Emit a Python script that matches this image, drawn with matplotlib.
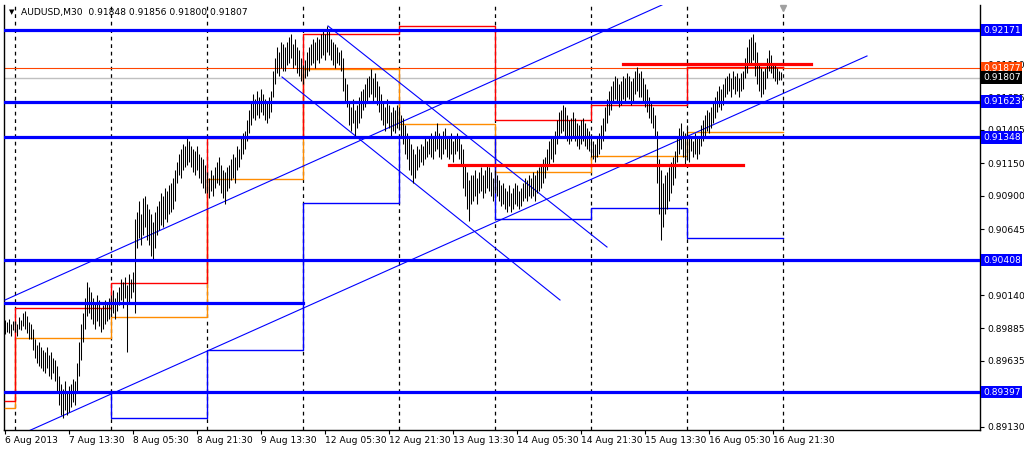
import numpy as np
import matplotlib.pyplot as plt
import matplotlib.transforms as mtransforms

# M30 bars, highs / lows in pips above 0.8900
bar_highs = [
    95, 93, 96, 92, 94, 94, 92, 97, 95, 100, 102, 98, 93,
    92, 88, 80, 76, 78, 74, 72, 70, 74, 68, 70, 66, 64,
    60, 52, 46, 42, 48, 40, 44, 46, 50, 48,
    62, 78, 92, 100, 112, 124,
    120, 116, 112, 108, 114, 110, 104, 106, 110, 108, 112,
    114, 118, 112, 116, 120, 126, 124, 128, 122, 130, 126, 132,
    172, 178, 186, 176, 188, 190, 184, 180, 176, 170, 178,
    182, 186, 192, 190, 196, 194, 198, 200, 204, 210,
    216, 222, 226, 230, 228, 234, 232, 228, 226, 224, 228, 222, 220, 218, 214,
    208, 204, 210, 206, 212, 216, 220, 214, 210, 208, 212, 214,
    218, 222, 220, 228, 226, 234, 238, 240,
    248, 256, 262, 268, 264, 270, 266, 272, 268, 264, 262, 266, 270,
    286, 296, 304, 300, 308, 306,
    304, 308, 312, 314, 306, 310, 304, 302,
    296, 290, 294, 300, 304,
    306, 310, 308, 312, 310, 314, 316, 314, 320,
    316, 310, 308, 306, 304, 300, 302,
    296, 280, 276,
    262, 258, 264, 256, 260, 266, 270,
    272, 276, 280, 282, 287, 280, 284, 278, 274,
    268, 262, 258, 264, 260, 254, 258, 256, 260,
    258, 252, 250, 244, 238, 236, 230, 226, 222, 228,
    226, 230, 228, 234, 232, 236, 238, 234, 240, 246, 238, 236, 240, 242, 236, 234, 238, 232,
    236, 238, 234, 230, 226,
    214, 208, 202, 206,
    206, 210, 204, 208, 212, 206, 210, 214, 212, 208, 204, 210,
    206, 202, 198, 200, 196, 194, 198, 192, 196, 200, 198, 194, 196, 200, 204, 202, 206,
    204, 208, 206, 210, 212, 214, 218,
    220, 226, 232, 236, 234, 240, 248, 254,
    256, 260, 258, 252, 248, 250, 254, 250, 246, 244, 248, 250, 246, 242,
    240, 236, 232, 230, 234, 238,
    244, 250, 258, 264, 270, 274,
    278, 282, 280, 276, 278, 282, 280, 284, 282, 278, 280, 286, 289, 284, 286, 280, 276,
    272, 266, 262, 258, 252,
    240, 218, 210, 200, 206,
    208, 212, 216, 220, 224,
    236, 242, 246, 240, 238, 244, 236,
    236, 232, 238, 234, 236,
    244, 248, 252, 256, 254, 258, 262,
    266, 270, 274, 272, 276,
    280, 282, 284, 280, 286, 282, 284, 280, 284, 286,
    296, 304, 310, 312, 314,
    308, 300, 292, 288, 286,
    288, 296, 302, 298, 292, 290, 288, 286, 285,
]
bar_lows = [
    84, 86, 85, 83, 87, 86, 83, 88, 87, 90, 88, 85, 80,
    80, 72, 66, 62, 60, 58, 56, 54, 58, 52, 50, 54, 48,
    40, 30, 22, 20, 26, 22, 24, 28, 32, 30,
    40, 52, 64, 78, 88, 98,
    100, 96, 92, 88, 94, 90, 86, 88, 92, 94, 96,
    98, 100, 96, 102, 106, 110, 104, 112, 70, 108, 112, 116,
    100, 150, 158, 152, 160, 166, 156, 152, 144, 142, 150,
    160, 164, 168, 166, 172, 170, 176, 178, 180, 186,
    200, 206, 204, 210, 212, 214, 216, 212, 208, 206, 210, 204, 200, 196, 192,
    192, 188, 194, 190, 196, 200, 198, 192, 188, 184, 194, 196,
    202, 204, 200, 210, 212, 218, 222, 226,
    232, 238, 244, 250, 248, 252, 250, 254, 252, 248, 246, 250, 254,
    266, 276, 284, 282, 288, 286,
    286, 290, 292, 296, 288, 290, 284, 282,
    278, 276, 280, 282, 286,
    290, 292, 288, 294, 292, 296, 298, 294, 300,
    298, 294, 290, 288, 292, 290, 286,
    270, 262, 258,
    244, 240, 246, 234, 242, 246, 250,
    256, 258, 262, 266, 268, 262, 266, 260, 254,
    248, 244, 240, 246, 242, 236, 240, 238, 242,
    242, 236, 230, 222, 218, 210, 206, 200, 204, 210,
    212, 216, 214, 218, 220, 222, 220, 218, 224, 226, 220, 218, 222, 226, 220, 218, 222, 216,
    222, 224, 218, 214, 196,
    190, 180, 171, 184,
    186, 190, 184, 192, 194, 188, 192, 196, 194, 190, 186, 192,
    190, 186, 182, 184, 180, 178, 182, 178, 180, 184, 182, 180, 182, 186, 188, 186, 190,
    188, 190, 186, 192, 194, 196, 200,
    204, 210, 214, 218, 216, 222, 230, 236,
    238, 240, 236, 232, 230, 232, 236, 232, 228, 226, 230, 232, 228, 226,
    224, 220, 218, 216, 220, 222,
    226, 232, 240, 246, 252, 256,
    262, 264, 262, 258, 260, 264, 262, 266, 264, 260, 262, 268, 270, 266, 266, 262, 258,
    254, 250, 246, 242, 236,
    200, 176, 156, 166, 176,
    180, 186, 192, 198, 204,
    216, 222, 226, 220, 214, 220, 216,
    224, 220, 222, 218, 222,
    228, 232, 236, 240, 238, 242, 246,
    250, 254, 258, 256, 260,
    266, 268, 270, 266, 272, 268, 270, 266, 270, 272,
    280, 284, 290, 292, 294,
    282, 276, 270, 266, 268,
    272, 280, 286, 284, 280, 278, 276, 279, 279,
]

# daily indicator levels (bar index where each day starts)
day_starts = [0, 5, 53, 101, 149, 197, 245, 293, 341, 389]
red_levels = [0.89328, 0.90041, 0.90232, 0.91343, 0.92140, 0.92202, 0.91481, 0.91596, 0.91887]
orange_levels = [0.89275, 0.89811, 0.89972, 0.91029, 0.91872, 0.91451, 0.91083, 0.91205, 0.91389]
blue_levels = [0.89397, 0.89400, 0.89198, 0.89719, 0.90845, 0.91351, 0.90723, 0.90807, 0.90577]

# horizontal support / resistance
blue_hlines = [0.92171, 0.91623, 0.91348, 0.90408, 0.89397]
short_blue = (0, 149, 0.90079)
red_segments = [(222, 369, 0.91137), (309, 403, 0.91910)]
ask_line = 0.91877
bid_line = 0.91807

# trend lines: (bar0, price0, bar1, price1)
trend_lines = [
    (0, 0.90102, 328.5, 0.92363),
    (12, 0.89100, 431, 0.91972),
    (161.5, 0.92202, 301, 0.90508),
    (138.5, 0.91811, 277.5, 0.90102),
]

x_tick_bars = [0, 32, 64, 96, 128, 160, 192, 224, 256, 288, 320, 352, 384]
x_tick_labels = ["6 Aug 2013", "7 Aug 13:30", "8 Aug 05:30", "8 Aug 21:30",
                 "9 Aug 13:30", "12 Aug 05:30", "12 Aug 21:30", "13 Aug 13:30",
                 "14 Aug 05:30", "14 Aug 21:30", "15 Aug 13:30", "16 Aug 05:30",
                 "16 Aug 21:30"]
y_ticks = [0.91910, 0.91655, 0.91405, 0.91150, 0.90900, 0.90645,
           0.90140, 0.89885, 0.89635, 0.89130]

fig = plt.figure(figsize=(10.24, 4.5), dpi=100)
ax = fig.add_axes([4 / 1024, 20 / 450, 976 / 1024, 425 / 450])
ax.set_xlim(-0.5, 487.5)
ax.set_ylim(0.891059, 0.923626)

# bars
hi = 0.89 + np.array(bar_highs) / 1e4
lo = 0.89 + np.array(bar_lows) / 1e4
xs = np.arange(len(hi))
ax.vlines(xs, lo, hi, color="black", lw=0.75, zorder=4)

# day separators
for d in day_starts[1:]:
    ax.axvline(d, color="black", lw=0.9, ls=(0, (3, 3)), zorder=1)

# bid / ask
ax.axhline(bid_line, color="#c0c0c0", lw=1, zorder=2)
ax.axhline(ask_line, color="#ff4500", lw=0.8, zorder=2)

# step levels
def step(levels, color, lw=1.0):
    xx, yy = [], []
    for k, lev in enumerate(levels):
        xx += [day_starts[k], day_starts[k + 1]]
        yy += [lev, lev]
    ax.plot(xx, yy, color=color, lw=lw, zorder=3)

step(orange_levels, "#ff8c00")
step(red_levels, "red")
step(blue_levels, "blue")

for y in blue_hlines:
    ax.axhline(y, color="blue", lw=2.3, zorder=5)
ax.plot([short_blue[0], short_blue[1]], [short_blue[2]] * 2, color="blue", lw=2.3, zorder=5)
for a, b, y in red_segments:
    ax.plot([a, b], [y, y], color="red", lw=2.3, zorder=5)

for a, pa, b, pb in trend_lines:
    ax.plot([a, b], [pa, pb], color="blue", lw=0.8, zorder=3)

# chart shift marker
ax.plot([day_starts[-1]], [0.9234], marker="v", color="#a0a0a0", ms=5, zorder=6, clip_on=False)

# axes styling
ax.spines["top"].set_visible(False)
for s in ["left", "right", "bottom"]:
    ax.spines[s].set_linewidth(1)
ax.yaxis.tick_right()
ax.set_yticks(y_ticks)
ax.set_yticklabels([f"{v:.5f}" for v in y_ticks], fontsize=6.6)
ax.tick_params(axis="y", length=3, pad=2)
ax.set_xticks(x_tick_bars)
ax.set_xticklabels(x_tick_labels, fontsize=6.6, ha="left")
ax.tick_params(axis="x", length=3, pad=1.5)

# price boxes on the right
tr = mtransforms.blended_transform_factory(ax.transAxes, ax.transData)
boxes = [(v, "blue") for v in blue_hlines] + [(ask_line, "#ff4500"), (bid_line, "black")]
for v, c in boxes:
    ax.text(1.003, v, f"{v:.5f}", transform=tr, color="white", fontsize=6.6,
            va="center", ha="left", clip_on=False, zorder=10,
            bbox=dict(boxstyle="square,pad=0.18", fc=c, ec="none"))

# title
fig.text(12 / 1024, 1 - 12 / 450, "\u25BC", fontsize=5, va="center", ha="center")
fig.text(21 / 1024, 1 - 12 / 450, "AUDUSD,M30  0.91848 0.91856 0.91800 0.91807",
         fontsize=6.6, va="center", ha="left")

fig.savefig("out.png", dpi=100, facecolor="white")
